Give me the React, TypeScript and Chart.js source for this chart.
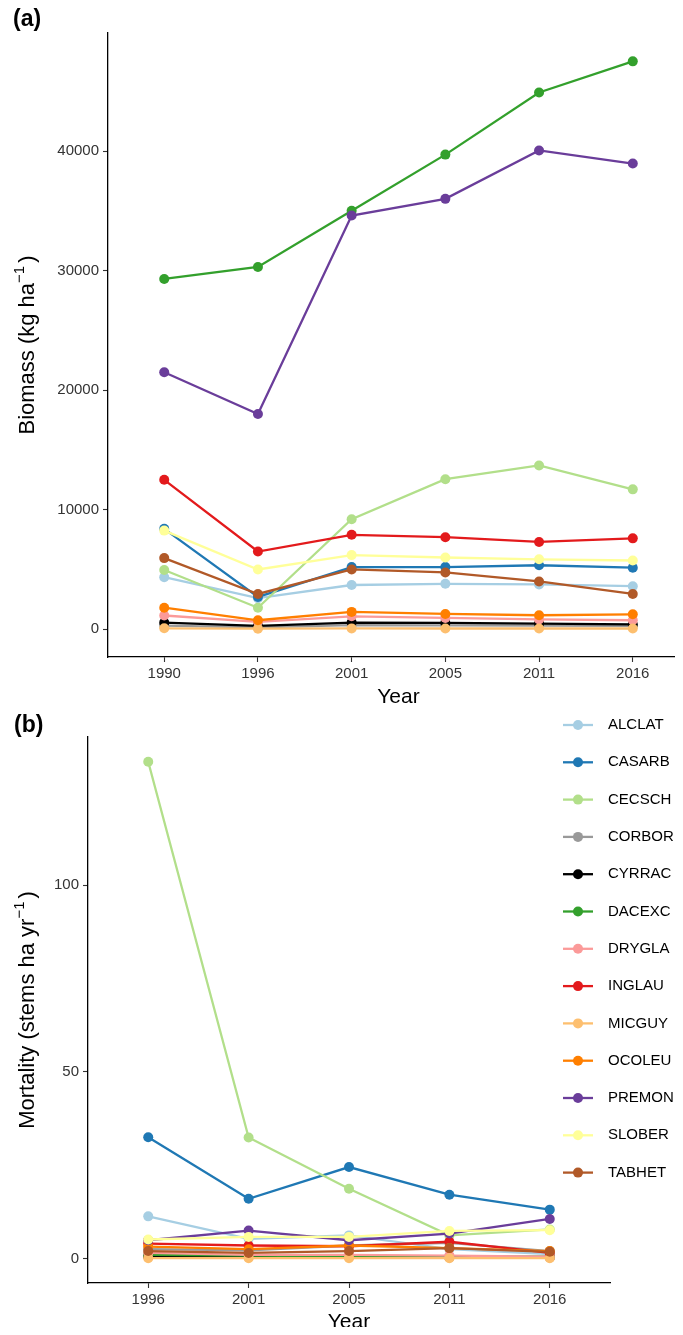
import React, { useEffect, useRef } from "react";
import { Chart, registerables } from "chart.js";

Chart.register(...registerables);

const speciesNames = ["ALCLAT", "CASARB", "CECSCH", "CORBOR", "CYRRAC", "DACEXC", "DRYGLA", "INGLAU", "MICGUY", "OCOLEU", "PREMON", "SLOBER", "TABHET"];
const speciesColors = ["#A6CEE3", "#1F78B4", "#B2DF8A", "#999999", "#000000", "#33A02C", "#FB9A99", "#E31A1C", "#FDBF6F", "#FF7F00", "#6A3D9A", "#FFFF99", "#B15928"];

const biomassYears = ["1990", "1996", "2001", "2005", "2011", "2016"];
const biomassALCLAT = [4350, 2600, 3700, 3800, 3750, 3600];
const biomassCASARB = [8400, 2700, 5200, 5200, 5350, 5150];
const biomassCECSCH = [4950, 1800, 9200, 12550, 13700, 11700];
const biomassCORBOR = [300, 150, 350, 330, 300, 280];
const biomassCYRRAC = [550, 280, 560, 530, 470, 400];
const biomassDACEXC = [29300, 30300, 35000, 39700, 44900, 47500];
const biomassDRYGLA = [1150, 620, 1080, 950, 820, 750];
const biomassINGLAU = [12500, 6500, 7900, 7700, 7300, 7600];
const biomassMICGUY = [80, 50, 70, 60, 60, 60];
const biomassOCOLEU = [1800, 750, 1450, 1280, 1170, 1250];
const biomassPREMON = [21500, 18000, 34600, 36000, 40050, 38950];
const biomassSLOBER = [8250, 5000, 6200, 6000, 5850, 5750];
const biomassTABHET = [5950, 2950, 5000, 4750, 4000, 2950];
const biomassTicks = [0, 10000, 20000, 30000, 40000];

const mortalityYears = ["1996", "2001", "2005", "2011", "2016"];
const mortalityALCLAT = [11.3, 5.3, 6.2, 2.5, 1.2];
const mortalityCASARB = [32.5, 16.0, 24.5, 17.1, 13.1];
const mortalityCECSCH = [133, 32.4, 18.7, 6.2, 7.8];
const mortalityCORBOR = [2.5, 2.2, 3.5, 4.2, 2.0];
const mortalityCYRRAC = [0.5, 0.4, 0.5, 0.3, 0.3];
const mortalityDACEXC = [1.0, 0.8, 0.6, 0.5, 0.5];
const mortalityDRYGLA = [1.5, 1.0, 1.0, 0.8, 0.5];
const mortalityINGLAU = [4.0, 3.5, 3.3, 4.5, 1.5];
const mortalityMICGUY = [0.1, 0.1, 0.1, 0.1, 0.1];
const mortalityOCOLEU = [3.2, 2.5, 3.5, 2.8, 2.0];
const mortalityPREMON = [4.9, 7.5, 4.9, 6.7, 10.6];
const mortalitySLOBER = [5.1, 5.8, 5.8, 7.4, 7.6];
const mortalityTABHET = [2.0, 1.5, 2.0, 2.8, 1.8];
const mortalityTicks = [0, 50, 100];

const biomassTitle = ["Biomass (kg ha", "\u22121", ")"];
const mortalityTitle = ["Mortality (stems ha yr", "\u22121", ")"];

const biomassSeries = [biomassALCLAT, biomassCASARB, biomassCECSCH, biomassCORBOR, biomassCYRRAC, biomassDACEXC, biomassDRYGLA, biomassINGLAU, biomassMICGUY, biomassOCOLEU, biomassPREMON, biomassSLOBER, biomassTABHET];
const mortalitySeries = [mortalityALCLAT, mortalityCASARB, mortalityCECSCH, mortalityCORBOR, mortalityCYRRAC, mortalityDACEXC, mortalityDRYGLA, mortalityINGLAU, mortalityMICGUY, mortalityOCOLEU, mortalityPREMON, mortalitySLOBER, mortalityTABHET];

const FONT = "'Liberation Sans', Arial, Helvetica, sans-serif";

const extrasPlugin = {
  id: "extras",
  afterDraw(chart: any, _args: any, opts: any) {
    const ctx = chart.ctx;
    const area = chart.chartArea;
    ctx.save();
    if (opts.label) {
      ctx.fillStyle = "#000";
      ctx.font = `bold 23px ${FONT}`;
      ctx.textAlign = "left";
      ctx.textBaseline = "middle";
      ctx.fillText(opts.label, opts.labelX, opts.labelY);
    }
    if (opts.yTitle) {
      const [main, sup, tail] = opts.yTitle;
      const big = `22px ${FONT}`;
      const small = `15px ${FONT}`;
      ctx.font = big;
      const w1 = ctx.measureText(main).width;
      const w3 = ctx.measureText(tail).width;
      ctx.font = small;
      const w2 = ctx.measureText(sup).width;
      const gap = 3;
      const total = w1 + w2 + gap + w3;
      ctx.translate(opts.yTitleX, (area.top + area.bottom) / 2);
      ctx.rotate(-Math.PI / 2);
      ctx.fillStyle = "#000";
      ctx.textAlign = "left";
      ctx.textBaseline = "middle";
      let x = -total / 2;
      ctx.font = big;
      ctx.fillText(main, x, 0);
      x += w1;
      ctx.font = small;
      ctx.fillText(sup, x, -8);
      x += w2 + gap;
      ctx.font = big;
      ctx.fillText(tail, x, 0);
      ctx.setTransform(1, 0, 0, 1, 0, 0);
    }
    if (opts.legend) {
      const lg = opts.legend;
      chart.data.datasets.forEach((ds: any, i: number) => {
        const y = lg.top + i * lg.spacing;
        ctx.strokeStyle = ds.borderColor;
        ctx.lineWidth = 2.3;
        ctx.beginPath();
        ctx.moveTo(lg.x, y);
        ctx.lineTo(lg.x + lg.keyWidth, y);
        ctx.stroke();
        ctx.fillStyle = ds.borderColor;
        ctx.beginPath();
        ctx.arc(lg.x + lg.keyWidth / 2, y, 5, 0, Math.PI * 2);
        ctx.fill();
        ctx.fillStyle = "#000";
        ctx.font = `15px ${FONT}`;
        ctx.textAlign = "left";
        ctx.textBaseline = "middle";
        ctx.fillText(ds.label, lg.textX, y);
      });
    }
    ctx.restore();
  },
};

function makeConfig(
  years: string[],
  series: number[][],
  yTicks: number[],
  layout: any,
  yWidth: number,
  xHeight: number,
  xTitlePad: number,
  extras: any
): any {
  const all = series.flat();
  const dmin = Math.min(...all);
  const dmax = Math.max(...all);
  const pad = (dmax - dmin) * 0.05;
  const n = years.length;
  const datasets = speciesNames.map((name, i) => ({
    label: name,
    data: series[i].map((v, j) => ({ x: j, y: v })),
    borderColor: speciesColors[i],
    backgroundColor: speciesColors[i],
    pointBackgroundColor: speciesColors[i],
    pointBorderWidth: 0,
    pointRadius: 5,
    pointHoverRadius: 5,
    borderWidth: 2.3,
    order: speciesNames.length - i,
    clip: false,
  }));
  return {
    type: "line",
    data: { datasets },
    plugins: [extrasPlugin],
    options: {
      animation: false,
      responsive: false,
      devicePixelRatio: 1,
      layout: { padding: layout },
      events: [],
      plugins: {
        legend: { display: false },
        tooltip: { enabled: false },
        title: { display: false },
        extras,
      },
      scales: {
        x: {
          type: "linear",
          min: -0.6,
          max: n - 1 + 0.6,
          afterBuildTicks: (s: any) => {
            s.ticks = years.map((_, j) => ({ value: j }));
          },
          afterFit: (s: any) => {
            s.height = xHeight;
          },
          ticks: {
            autoSkip: false,
            maxRotation: 0,
            padding: 3,
            color: "#333333",
            font: { family: FONT, size: 15 },
            callback: (v: any) => years[v] ?? "",
          },
          grid: { display: true, drawOnChartArea: false, drawTicks: true, tickLength: 5, tickColor: "#333333", tickWidth: 1.1 },
          border: { display: true, color: "#000000", width: 1.3 },
          title: { display: true, text: "Year", color: "#000", font: { family: FONT, size: 21 }, padding: { top: 0, bottom: xTitlePad } },
        },
        y: {
          type: "linear",
          min: dmin - pad,
          max: dmax + pad,
          afterBuildTicks: (s: any) => {
            s.ticks = yTicks.map((v) => ({ value: v }));
          },
          afterFit: (s: any) => {
            s.width = yWidth;
          },
          ticks: {
            padding: 4,
            color: "#333333",
            font: { family: FONT, size: 15 },
            callback: (v: any) => String(v),
          },
          grid: { display: true, drawOnChartArea: false, drawTicks: true, tickLength: 5, tickColor: "#333333", tickWidth: 1.1 },
          border: { display: true, color: "#000000", width: 1.3 },
          title: { display: false },
        },
      },
    },
  };
}

export default function App() {
  const refA = useRef<HTMLCanvasElement | null>(null);
  const refB = useRef<HTMLCanvasElement | null>(null);

  useEffect(() => {
    const chartA = new Chart(
      refA.current as HTMLCanvasElement,
      makeConfig(
        biomassYears,
        biomassSeries,
        biomassTicks,
        { top: 33, right: 11, left: 0, bottom: 0 },
        108,
        55,
        2,
        { label: "(a)", labelX: 13, labelY: 20, yTitle: biomassTitle, yTitleX: 28 }
      )
    );
    const chartB = new Chart(
      refB.current as HTMLCanvasElement,
      makeConfig(
        mortalityYears,
        mortalitySeries,
        mortalityTicks,
        { top: 37, right: 73, left: 0, bottom: 0 },
        88,
        52,
        0,
        {
          label: "(b)",
          labelX: 14,
          labelY: 26,
          yTitle: mortalityTitle,
          yTitleX: 28,
          legend: { x: 563, keyWidth: 30, textX: 608, top: 25, spacing: 37.3 },
        }
      )
    );
    return () => {
      chartA.destroy();
      chartB.destroy();
    };
  }, []);

  return (
    <div style={{ position: "relative", width: 683, height: 1335, overflow: "hidden", margin: "-8px" }}>
      <canvas ref={refA} width={700} height={712} style={{ position: "absolute", left: 0, top: 0 }} />
      <canvas ref={refB} width={683} height={635} style={{ position: "absolute", left: 0, top: 700 }} />
    </div>
  );
}
